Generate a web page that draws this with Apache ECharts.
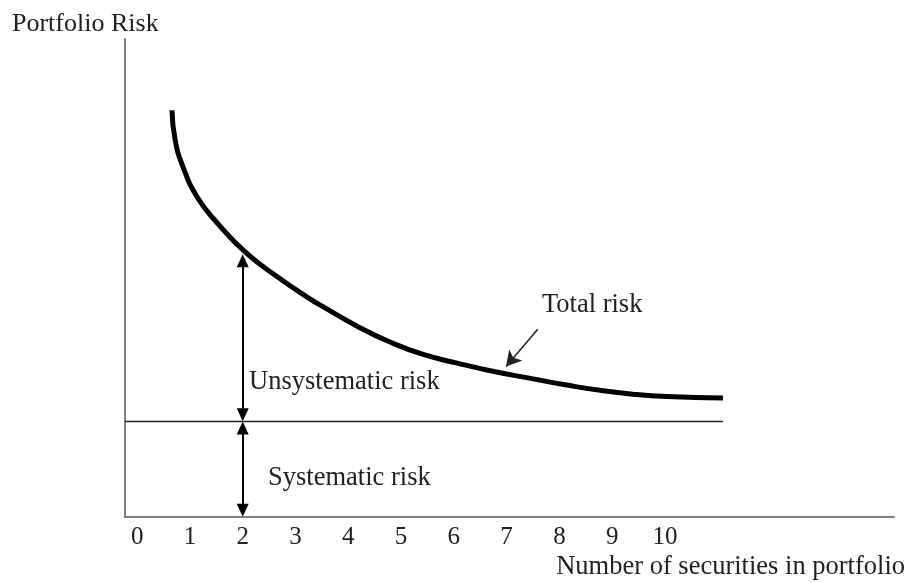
<!DOCTYPE html>
<html>
<head>
<meta charset="utf-8">
<script src="https://cdn.jsdelivr.net/npm/echarts@6/dist/echarts.min.js"></script>
<style>
  html, body { margin: 0; padding: 0; background: #fff; }
  #chart { width: 909px; height: 583px; }
</style>
</head>
<body>
<div id="chart"></div>
<script>
    // number of securities (x) and total risk (y) along the curve
    var curveX = [0.66, 0.72, 0.87, 1.14, 1.52, 2.05, 2.65, 3.22, 3.52, 4.17, 4.79, 5.42, 6.06, 6.69, 7.50, 8.14, 8.77, 9.39, 10.04, 11.10];
    var curveY = [85.1, 78.9, 73.2, 66.9, 61.5, 55.4, 50.3, 46.0, 44.0, 39.9, 36.6, 34.0, 32.2, 30.6, 28.9, 27.6, 26.5, 25.7, 25.2, 24.9];

    var tickLabels = [0, 1, 2, 3, 4, 5, 6, 7, 8, 9, 10];

    var systematicLevel = 20;
    var xMin = -0.23;
    var xMax = 14.34;
    var lineEndX = 11.1;

    var arrowX = 2;
    var arrowTopY = 55.0;
    var headHalf = 1.4; // half an arrowhead, in y units

    // "Total risk" pointer: from label to the curve
    var pointerFrom = [7.59, 39.3];
    var pointerTo = [6.99, 31.5];

    var textFont = 'Liberation Serif';
    var textColor = '#222';

    var chart = echarts.init(document.getElementById('chart'));

    var curveData = [];
    for (var i = 0; i < curveX.length; i++) {
        curveData.push([curveX[i], curveY[i]]);
    }

    function note(text, x, y) {
        return {
            coord: [x, y],
            symbol: 'circle',
            symbolSize: 0,
            label: {
                show: true,
                position: 'right',
                distance: 0,
                formatter: text,
                fontFamily: textFont,
                fontSize: 26.5,
                color: textColor
            }
        };
    }

    var option = {
        animation: false,
        grid: { left: 125, right: 15, top: 39, bottom: 66, outerBoundsMode: 'none', containLabel: false },
        graphic: [
            {
                type: 'text', left: 12, top: 11,
                style: { text: 'Portfolio Risk', fontFamily: textFont, fontSize: 26, fill: textColor }
            },
            {
                type: 'text', right: 4, top: 554,
                style: { text: 'Number of securities in portfolio', fontFamily: textFont, fontSize: 26.5, fill: textColor }
            }
        ],
        xAxis: {
            type: 'value',
            min: xMin,
            max: xMax,
            axisLine: { onZero: false, lineStyle: { color: '#808080', width: 2 } },
            axisTick: { show: false },
            splitLine: { show: false },
            axisLabel: {
                customValues: tickLabels,
                margin: 8,
                fontFamily: textFont,
                fontSize: 25,
                color: textColor
            }
        },
        yAxis: {
            type: 'value',
            min: 0,
            max: 100,
            axisLine: { show: true, onZero: false, lineStyle: { color: '#808080', width: 2 } },
            axisTick: { show: false },
            axisLabel: { show: false },
            splitLine: { show: false }
        },
        series: [
            {
                name: 'Total risk',
                type: 'line',
                data: curveData,
                smooth: 0.5,
                showSymbol: false,
                lineStyle: { color: '#000', width: 5, cap: 'butt' },
                markLine: {
                    silent: true,
                    symbol: ['none', 'arrow'],
                    symbolSize: [13, 15],
                    label: { show: false },
                    lineStyle: { color: '#222', width: 1.5, type: 'solid' },
                    data: [[{ coord: pointerFrom }, { coord: pointerTo }]]
                },
                markPoint: {
                    silent: true,
                    data: [
                        note('Total risk', 7.67, 44.4),
                        note('Unsystematic risk', 2.12, 28.2),
                        note('Systematic risk', 2.48, 8.2)
                    ]
                }
            },
            {
                name: 'Systematic risk',
                type: 'line',
                data: [[xMin, systematicLevel], [lineEndX, systematicLevel]],
                showSymbol: false,
                lineStyle: { color: '#222', width: 1.5 },
                markLine: {
                    silent: true,
                    symbol: ['triangle', 'triangle'],
                    symbolSize: [12, 13],
                    label: { show: false },
                    lineStyle: { color: '#000', width: 2, type: 'solid' },
                    data: [
                        [{ coord: [arrowX, systematicLevel + headHalf] }, { coord: [arrowX, arrowTopY - headHalf] }],
                        [{ coord: [arrowX, headHalf] }, { coord: [arrowX, systematicLevel - headHalf] }]
                    ]
                }
            }
        ]
    };

    chart.setOption(option);
</script>
</body>
</html>
